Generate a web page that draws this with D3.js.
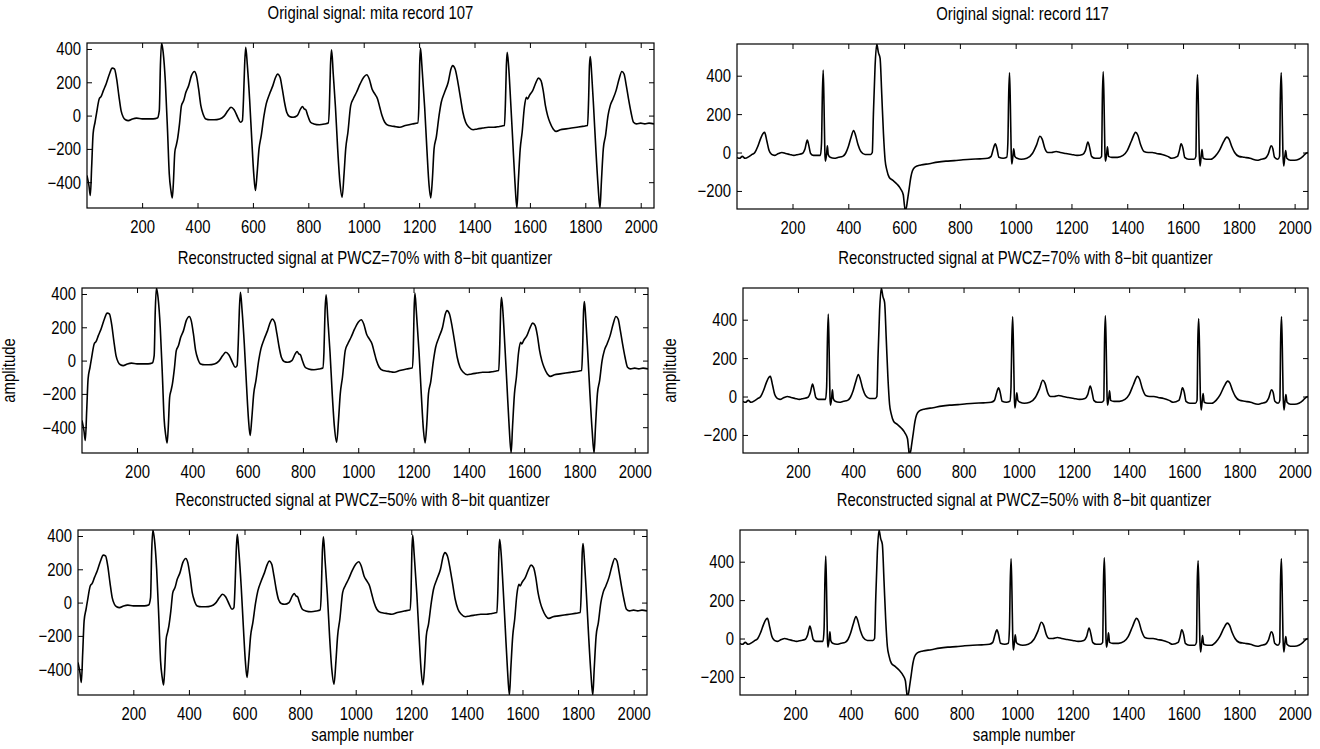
<!DOCTYPE html>
<html><head><meta charset="utf-8">
<script src="https://cdn.jsdelivr.net/npm/d3@7/dist/d3.min.js"></script>
<style>
body{margin:0;background:#fff;}
svg text{font-family:"Liberation Sans",Arial,sans-serif;fill:#000;}
</style></head>
<body><svg id="c" width="1320" height="749"></svg>
<script>
// ---------- data ----------
const xDomain = [1, 2048];
const xTicks = [200, 400, 600, 800, 1000, 1200, 1400, 1600, 1800, 2000];
const yDomain107 = [-555, 436];
const yTicks107 = [-400, -200, 0, 200, 400];
const yDomain117 = [-294, 565];
const yTicks117 = [-200, 0, 200, 400];

const titles = [
  "Original signal: mita record 107", "Original signal: record 117",
  "Reconstructed signal at PWCZ=70% with 8\u2212bit quantizer", "Reconstructed signal at PWCZ=70% with 8\u2212bit quantizer",
  "Reconstructed signal at PWCZ=50% with 8\u2212bit quantizer", "Reconstructed signal at PWCZ=50% with 8\u2212bit quantizer"
];

// record 107: [sample, amplitude]
const record107 = [[1,-360],[8,-420],[13,-480],[18,-300],[23,-110],[30,-40],[36,20],[45,100],[52,115],[60,150],[70,190],[82,250],[92,285],[100,280],[108,220],[116,120],[124,30],[132,-10],[140,-25],[150,-30],[165,-20],[180,-15],[200,-20],[220,-20],[240,-20],[255,-15],[262,30],[266,300],[270,436],[276,380],[284,200],[292,-100],[298,-350],[304,-450],[309,-495],[313,-400],[318,-220],[323,-180],[328,-140],[335,-50],[342,60],[350,90],[358,140],[368,180],[378,240],[389,265],[396,240],[404,160],[412,60],[420,10],[430,-20],[445,-25],[460,-25],[480,-20],[495,-5],[510,30],[521,50],[532,35],[545,-10],[555,-40],[562,-30],[566,100],[570,300],[574,410],[580,300],[588,100],[596,-150],[603,-350],[609,-450],[615,-350],[622,-200],[630,-120],[640,0],[648,70],[660,130],[672,180],[682,230],[689,250],[698,230],[706,160],[714,80],[722,20],[732,-5],[745,-10],[760,0],[772,40],[779,55],[785,40],[791,35],[798,0],[808,-40],[820,-50],[840,-55],[860,-50],[872,-45],[876,50],[880,300],[884,395],[890,250],[898,50],[906,-200],[914,-400],[922,-490],[929,-350],[935,-200],[943,-100],[953,60],[962,100],[974,140],[987,190],[1000,230],[1011,245],[1020,220],[1030,160],[1040,130],[1050,100],[1058,50],[1066,0],[1076,-40],[1090,-60],[1110,-65],[1130,-70],[1150,-60],[1175,-50],[1195,-45],[1199,50],[1202,300],[1205,405],[1210,300],[1220,50],[1228,-200],[1236,-420],[1242,-495],[1248,-380],[1254,-200],[1262,-130],[1272,0],[1280,80],[1292,140],[1305,200],[1315,280],[1321,300],[1330,280],[1340,200],[1350,100],[1358,20],[1368,-40],[1380,-70],[1395,-85],[1410,-80],[1430,-75],[1450,-70],[1470,-70],[1490,-65],[1508,-60],[1512,100],[1515,300],[1518,380],[1523,300],[1530,100],[1538,-150],[1546,-400],[1553,-555],[1558,-400],[1565,-200],[1572,-100],[1580,50],[1587,110],[1592,100],[1598,120],[1610,150],[1622,200],[1631,225],[1640,210],[1648,150],[1656,60],[1664,0],[1672,-40],[1684,-80],[1695,-95],[1710,-85],[1730,-80],[1750,-75],[1770,-70],[1790,-65],[1808,-60],[1812,100],[1815,300],[1818,355],[1823,250],[1830,50],[1838,-200],[1846,-420],[1853,-555],[1858,-400],[1865,-200],[1873,-120],[1882,0],[1890,60],[1900,100],[1911,150],[1922,220],[1932,265],[1940,250],[1948,180],[1956,100],[1965,20],[1974,-40],[1985,-50],[2000,-45],[2015,-50],[2030,-45],[2048,-50]];

// record 117: [sample, amplitude]
const record117 = [[1,-25],[10,-30],[20,-20],[30,-30],[45,-20],[55,-10],[65,0],[75,30],[85,70],[95,100],[100,105],[108,60],[116,10],[125,-10],[135,-15],[150,-5],[162,0],[175,-5],[190,-10],[205,-15],[220,-10],[235,-5],[245,20],[253,65],[258,40],[265,-5],[275,-15],[290,-15],[300,-15],[304,50],[307,300],[310,430],[313,250],[316,0],[318,-45],[322,-10],[325,35],[328,-10],[335,-25],[350,-30],[365,-25],[380,-20],[390,-5],[400,30],[410,80],[419,115],[426,90],[435,40],[445,5],[460,-10],[480,-10],[486,0],[490,200],[496,450],[502,565],[508,520],[514,490],[520,300],[526,100],[532,-40],[538,-90],[547,-130],[560,-145],[575,-165],[588,-190],[597,-220],[603,-290],[607,-294],[612,-250],[618,-190],[624,-130],[630,-95],[640,-75],[660,-65],[690,-58],[720,-50],[750,-45],[780,-42],[811,-38],[840,-35],[872,-33],[900,-30],[912,-20],[920,20],[927,45],[933,20],[940,-25],[955,-30],[968,-25],[972,50],[975,300],[978,415],[981,250],[984,0],[986,-60],[990,-20],[993,20],[997,-20],[1005,-30],[1020,-35],[1040,-30],[1060,-5],[1075,40],[1087,85],[1095,70],[1105,20],[1115,0],[1128,0],[1145,5],[1160,0],[1180,-5],[1200,-10],[1220,-15],[1240,-10],[1250,10],[1259,55],[1266,20],[1272,-20],[1285,-30],[1300,-30],[1308,-20],[1311,300],[1314,420],[1317,250],[1320,0],[1322,-45],[1326,-10],[1329,30],[1333,-20],[1345,-25],[1365,-25],[1385,-15],[1400,10],[1415,60],[1430,105],[1438,90],[1448,40],[1460,5],[1475,0],[1490,0],[1505,-5],[1525,-10],[1545,-20],[1560,-30],[1580,-20],[1587,10],[1593,45],[1600,20],[1606,-25],[1620,-35],[1640,-35],[1646,-20],[1649,300],[1652,405],[1655,250],[1658,0],[1661,-70],[1665,-20],[1668,15],[1672,-30],[1685,-35],[1700,-35],[1715,-20],[1730,10],[1745,55],[1757,80],[1765,70],[1775,30],[1785,0],[1800,-20],[1820,-25],[1840,-30],[1866,-40],[1880,-35],[1895,-30],[1905,-10],[1916,35],[1922,20],[1928,-25],[1940,-35],[1946,-20],[1949,300],[1952,415],[1955,250],[1958,0],[1961,-70],[1965,-20],[1968,10],[1972,-30],[1985,-40],[2000,-40],[2015,-35],[2030,-20],[2040,-5],[2048,0]];

// ---------- layout ----------
const panels = [
  {x0:87,  x1:654,  y0:43,  y1:208, data:record107, yd:yDomain107, yt:yTicks107, ylab:false, xlab:false},
  {x0:737, x1:1308, y0:44,  y1:209, data:record117, yd:yDomain117, yt:yTicks117, ylab:false, xlab:false},
  {x0:82,  x1:648,  y0:288, y1:453, data:record107, yd:yDomain107, yt:yTicks107, ylab:true,  xlab:false},
  {x0:743, x1:1308, y0:288, y1:453, data:record117, yd:yDomain117, yt:yTicks117, ylab:true,  xlab:false},
  {x0:78,  x1:647,  y0:530, y1:695, data:record107, yd:yDomain107, yt:yTicks107, ylab:false, xlab:true},
  {x0:740, x1:1308, y0:530, y1:695, data:record117, yd:yDomain117, yt:yTicks117, ylab:false, xlab:true}
];

const svg = d3.select("#c");
const defs = svg.append("defs");
const FS = 17.5, FT = 17.5, SX = 0.85, TK = 5;

function cond(sel, x, y) { // condensed text placed at (x,y)
  sel.attr("x", 0).attr("y", 0).attr("transform", `translate(${x},${y}) scale(${SX},1)`);
}

panels.forEach((p, i) => {
  const x = d3.scaleLinear().domain(xDomain).range([p.x0, p.x1]);
  const y = d3.scaleLinear().domain(p.yd).range([p.y1, p.y0]);
  const g = svg.append("g");
  defs.append("clipPath").attr("id", "cp" + i).append("rect")
    .attr("x", p.x0).attr("y", p.y0).attr("width", p.x1 - p.x0).attr("height", p.y1 - p.y0);

  g.append("path").datum(p.data)
    .attr("clip-path", "url(#cp" + i + ")")
    .attr("fill", "none").attr("stroke", "#000").attr("stroke-width", 1.6)
    .attr("stroke-linejoin", "round")
    .attr("d", d3.line().curve(d3.curveMonotoneX).x(d => x(d[0])).y(d => y(d[1])));

  const bottom = g.append("g").attr("transform", `translate(0,${p.y1})`)
    .call(d3.axisBottom(x).tickValues(xTicks).tickSize(-TK).tickFormat(d3.format("d")));
  const top = g.append("g").attr("transform", `translate(0,${p.y0})`)
    .call(d3.axisTop(x).tickValues(xTicks).tickSize(-TK).tickFormat(""));
  const left = g.append("g").attr("transform", `translate(${p.x0},0)`)
    .call(d3.axisLeft(y).tickValues(p.yt).tickSize(-TK).tickFormat(d => d < 0 ? "\u2212" + Math.abs(d) : d));
  const right = g.append("g").attr("transform", `translate(${p.x1},0)`)
    .call(d3.axisRight(y).tickValues(p.yt).tickSize(-TK).tickFormat(""));
  [bottom, top, left, right].forEach(a => {
    a.select(".domain").remove();
    a.selectAll("line").attr("stroke", "#000").attr("stroke-width", 1);
    a.selectAll("text").attr("font-size", FS).attr("font-family", null);
  });
  bottom.selectAll("text").attr("dy", null).each(function () { cond(d3.select(this), 0, 25); });
  left.selectAll("text").attr("dy", null).each(function () { cond(d3.select(this), -6, 6); });

  g.append("rect").attr("x", p.x0).attr("y", p.y0).attr("width", p.x1 - p.x0).attr("height", p.y1 - p.y0)
    .attr("fill", "none").attr("stroke", "#000").attr("stroke-width", 1.2);

  const t = g.append("text").attr("text-anchor", "middle").attr("font-size", FT).text(titles[i]);
  cond(t, (p.x0 + p.x1) / 2, p.y0 - 24);
  if (p.ylab) {
    g.append("text").attr("transform", `translate(${p.x0 - 67},${(p.y0 + p.y1) / 2}) rotate(-90) scale(${SX},1)`)
      .attr("text-anchor", "middle").attr("font-size", FT).text("amplitude");
  }
  if (p.xlab) {
    const s = g.append("text").attr("text-anchor", "middle").attr("font-size", FT).text("sample number");
    cond(s, (p.x0 + p.x1) / 2, p.y1 + 46);
  }
});
</script></body></html>
